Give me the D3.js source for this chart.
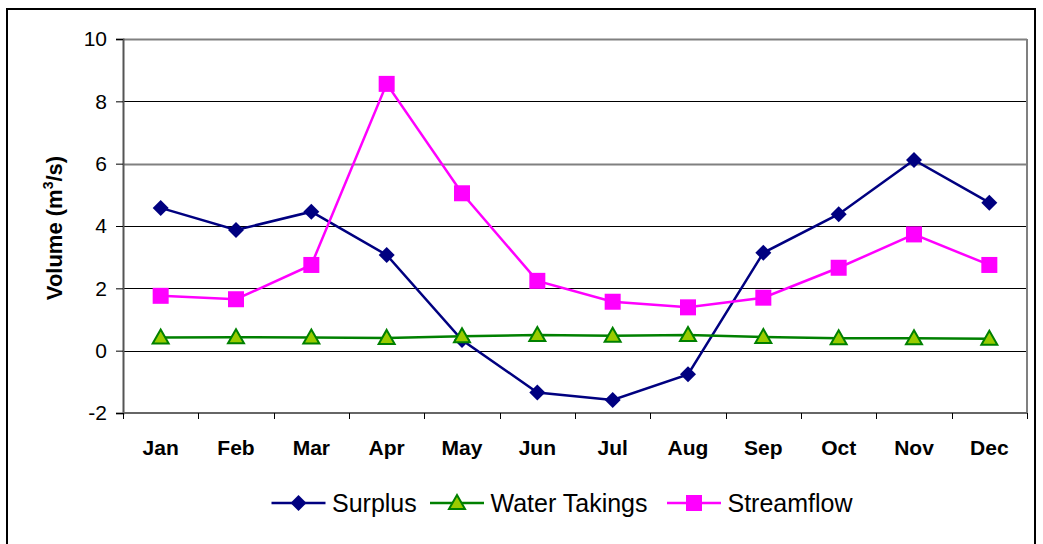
<!DOCTYPE html>
<html>
<head>
<meta charset="utf-8">
<script src="https://cdn.jsdelivr.net/npm/d3@7"></script>
<style>
  html, body { margin: 0; padding: 0; background: #fff; }
  svg { display: block; font-family: "Liberation Sans", Arial, sans-serif; }
</style>
</head>
<body>
<svg id="chart" width="1043" height="544"></svg>
<script>
const months = ["Jan","Feb","Mar","Apr","May","Jun","Jul","Aug","Sep","Oct","Nov","Dec"];
const surplus = [4.58, 3.87, 4.46, 3.07, 0.34, -1.34, -1.58, -0.76, 3.14, 4.38, 6.12, 4.75];
const waterTakings = [0.42, 0.43, 0.42, 0.41, 0.46, 0.50, 0.48, 0.50, 0.44, 0.40, 0.40, 0.38];
const streamflow = [1.76, 1.65, 2.75, 8.56, 5.05, 2.24, 1.57, 1.39, 1.70, 2.66, 3.73, 2.75];
const yTicks = [-2, 0, 2, 4, 6, 8, 10];
const seriesNames = ["Surplus", "Water Takings", "Streamflow"];

(function () {
const svg = d3.select("#chart");
const pLeft = 123, pRight = 1027, pTop = 39, pBottom = 413;
const FONT = "'Liberation Sans', Arial, sans-serif";

// outer frame
svg.append("rect").attr("x", 7).attr("y", 9).attr("width", 1028).attr("height", 545)
  .attr("fill", "none").attr("stroke", "#000").attr("stroke-width", 2);

const x = d3.scaleBand().domain(months).range([pLeft, pRight]).paddingInner(0).paddingOuter(0);
const y = d3.scaleLinear().domain([-2, 10]).range([pBottom, pTop]);

// gridlines
svg.append("g").selectAll("line").data(yTicks.filter(t => t > -2)).join("line")
  .attr("x1", pLeft).attr("x2", pRight)
  .attr("y1", d => Math.round(y(d)) + 0.5).attr("y2", d => Math.round(y(d)) + 0.5)
  .attr("stroke", d => (d === 10 || d === 6) ? "#808080" : "#000")
  .attr("stroke-width", d => (d === 10 || d === 6) ? 2 : 1);

// plot area right border
svg.append("line").attr("x1", pRight).attr("x2", pRight).attr("y1", pTop).attr("y2", pBottom)
  .attr("stroke", "#808080").attr("stroke-width", 2);

// Y axis
const yAxis = d3.axisLeft(y).tickValues(yTicks).tickSize(7).tickPadding(9).tickFormat(d => String(d));
const gy = svg.append("g").attr("transform", `translate(${pLeft},0)`).call(yAxis);
gy.attr("font-family", FONT).attr("font-size", 21);
gy.select(".domain").attr("stroke", "#555").attr("stroke-width", 2);
gy.selectAll(".tick line").attr("stroke", "#000");
gy.selectAll(".tick text").attr("fill", "#000");

// X axis
const gx = svg.append("g").attr("transform", `translate(0,${pBottom})`);
gx.append("line").attr("x1", pLeft).attr("x2", pRight).attr("y1", 0).attr("y2", 0)
  .attr("stroke", "#666").attr("stroke-width", 2);
const boundaries = months.map(m => x(m)).concat([pRight]);
gx.selectAll("line.tk").data(boundaries).join("line").attr("class", "tk")
  .attr("x1", d => Math.round(d) + 0.5).attr("x2", d => Math.round(d) + 0.5)
  .attr("y1", 0).attr("y2", 6).attr("stroke", "#000");
gx.selectAll("text").data(months).join("text")
  .attr("x", d => x(d) + x.bandwidth() / 2).attr("y", 42)
  .attr("text-anchor", "middle").attr("font-size", 21).attr("font-weight", "bold")
  .text(d => d);

// Y label
const yl = svg.append("text").attr("transform", "translate(62,228) rotate(-90)")
  .attr("text-anchor", "middle").attr("font-size", 22).attr("font-weight", "bold");
yl.append("tspan").text("Volume (m");
yl.append("tspan").attr("font-size", 14).attr("dy", -9).text("3");
yl.append("tspan").attr("dy", 9).text("/s)");

const cx = m => x(m) + x.bandwidth() / 2;
const line = d3.line().x((d, i) => cx(months[i])).y(d => y(d));

function drawDiamond(g, px, py) {
  g.append("path").attr("d", `M${px},${py-8}L${px+8},${py}L${px},${py+8}L${px-8},${py}Z`)
    .attr("fill", "#000080");
}
function drawTriangle(g, px, py) {
  g.append("path").attr("d", `M${px},${py-8}L${px+8},${py+6}L${px-8},${py+6}Z`)
    .attr("fill", "#99CC00").attr("stroke", "#008000").attr("stroke-width", 2);
}
function drawSquare(g, px, py) {
  g.append("rect").attr("x", px - 8).attr("y", py - 8).attr("width", 16).attr("height", 16)
    .attr("fill", "#FF00FF");
}

const series = [
  { name: seriesNames[0], data: surplus, color: "#000080", marker: drawDiamond },
  { name: seriesNames[1], data: waterTakings, color: "#008000", marker: drawTriangle },
  { name: seriesNames[2], data: streamflow, color: "#FF00FF", marker: drawSquare }
];

series.forEach(s => {
  const g = svg.append("g");
  g.append("path").datum(s.data).attr("d", line).attr("fill", "none")
    .attr("stroke", s.color).attr("stroke-width", 2.5);
  s.data.forEach((v, i) => s.marker(g, cx(months[i]), y(v)));
});

// legend
const legendItems = [
  { s: series[0], x0: 271.5 },
  { s: series[1], x0: 430 },
  { s: series[2], x0: 667 }
];
const ly = 503;
legendItems.forEach(it => {
  const g = svg.append("g");
  g.append("line").attr("x1", it.x0).attr("x2", it.x0 + 54).attr("y1", ly).attr("y2", ly)
    .attr("stroke", it.s.color).attr("stroke-width", 2.5);
  it.s.marker(g, it.x0 + 27, ly);
  g.append("text").attr("x", it.x0 + 60.5).attr("y", ly + 8.5).attr("font-size", 25)
    .text(it.s.name);
});
})();
</script>
</body>
</html>
